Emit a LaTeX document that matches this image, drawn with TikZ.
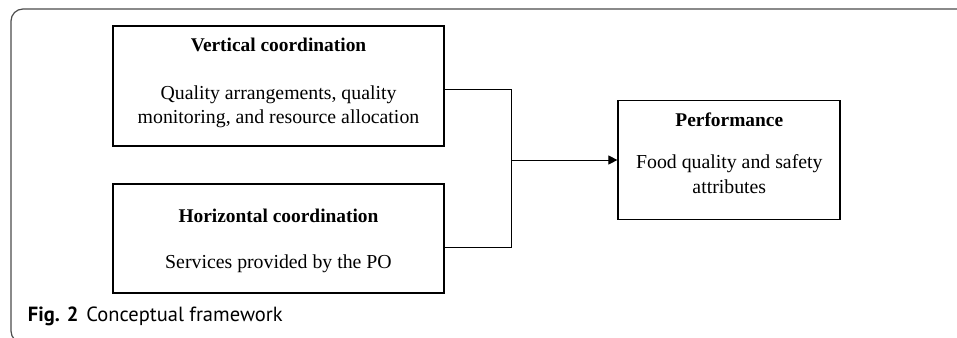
\documentclass[tikz,border=0pt]{standalone}
\usepackage{fontspec}
\setmainfont{Liberation Serif}
\newfontfamily\capfont{PT Sans}
\usetikzlibrary{arrows.meta}
\begin{document}
\begin{tikzpicture}[x=1pt,y=-1pt,
  box/.style={draw=black,line width=1.8pt,minimum width=#1,inner sep=0pt},
  txt/.style={anchor=base,inner sep=0pt,font=\fontsize{19.8}{22}\selectfont},
  ttl/.style={anchor=base,inner sep=0pt,font=\fontsize{19.4}{22}\selectfont\bfseries},
  conn/.style={draw=black,line width=0.9pt},
  frame/.style={draw=black!70,line width=1.2pt,rounded corners=12pt}]
\useasboundingbox (0,0) rectangle (957,337);
\begin{scope}
\clip (0,0) rectangle (957,337);
\draw[frame] (11,9) rectangle (990,343);
\end{scope}
% boxes
\node[box=331pt,minimum height=120pt] (vc) at (278.5,86) {};
\node[box=331pt,minimum height=109pt] (hc) at (278.5,238.5) {};
\node[box=222pt,minimum height=119pt] (pf) at (729.3,160) {};
% texts
\node[ttl] (vct) at (278.5,51.7) {Vertical coordination};
\node[txt] (vc1) at (278.5,99) {Quality arrangements, quality};
\node[txt] (vc2) at (278.5,123) {monitoring, and resource allocation};
\node[ttl] (hct) at (278.5,222.7) {Horizontal coordination};
\node[txt] (hc1) at (278.5,268.7) {Services provided by the PO};
\node[ttl] (pft) at (729.3,126.7) {Performance};
\node[txt] (pf1) at (729.3,168.3) {Food quality and safety};
\node[txt] (pf2) at (729.3,193.3) {attributes};
% connectors
\coordinate (a) at (vc.east |- 0,89.3);
\coordinate (b) at (511,89.3);
\coordinate (c) at (511,247.3);
\coordinate (d) at (hc.east |- 0,247.3);
\coordinate (j) at (511,160);
\draw[conn] (a) -- (b) -- (c) -- (d);
\draw[conn,-{Triangle[length=9pt,width=9pt]}] (j) -- (pf.west);
% caption
\node[anchor=base west,inner sep=0pt,font=\capfont\fontsize{20.5}{22}\selectfont] (cap) at (27.7,321) {\textbf{Fig. 2}\hspace{8pt}Conceptual framework};
\end{tikzpicture}
\end{document}
